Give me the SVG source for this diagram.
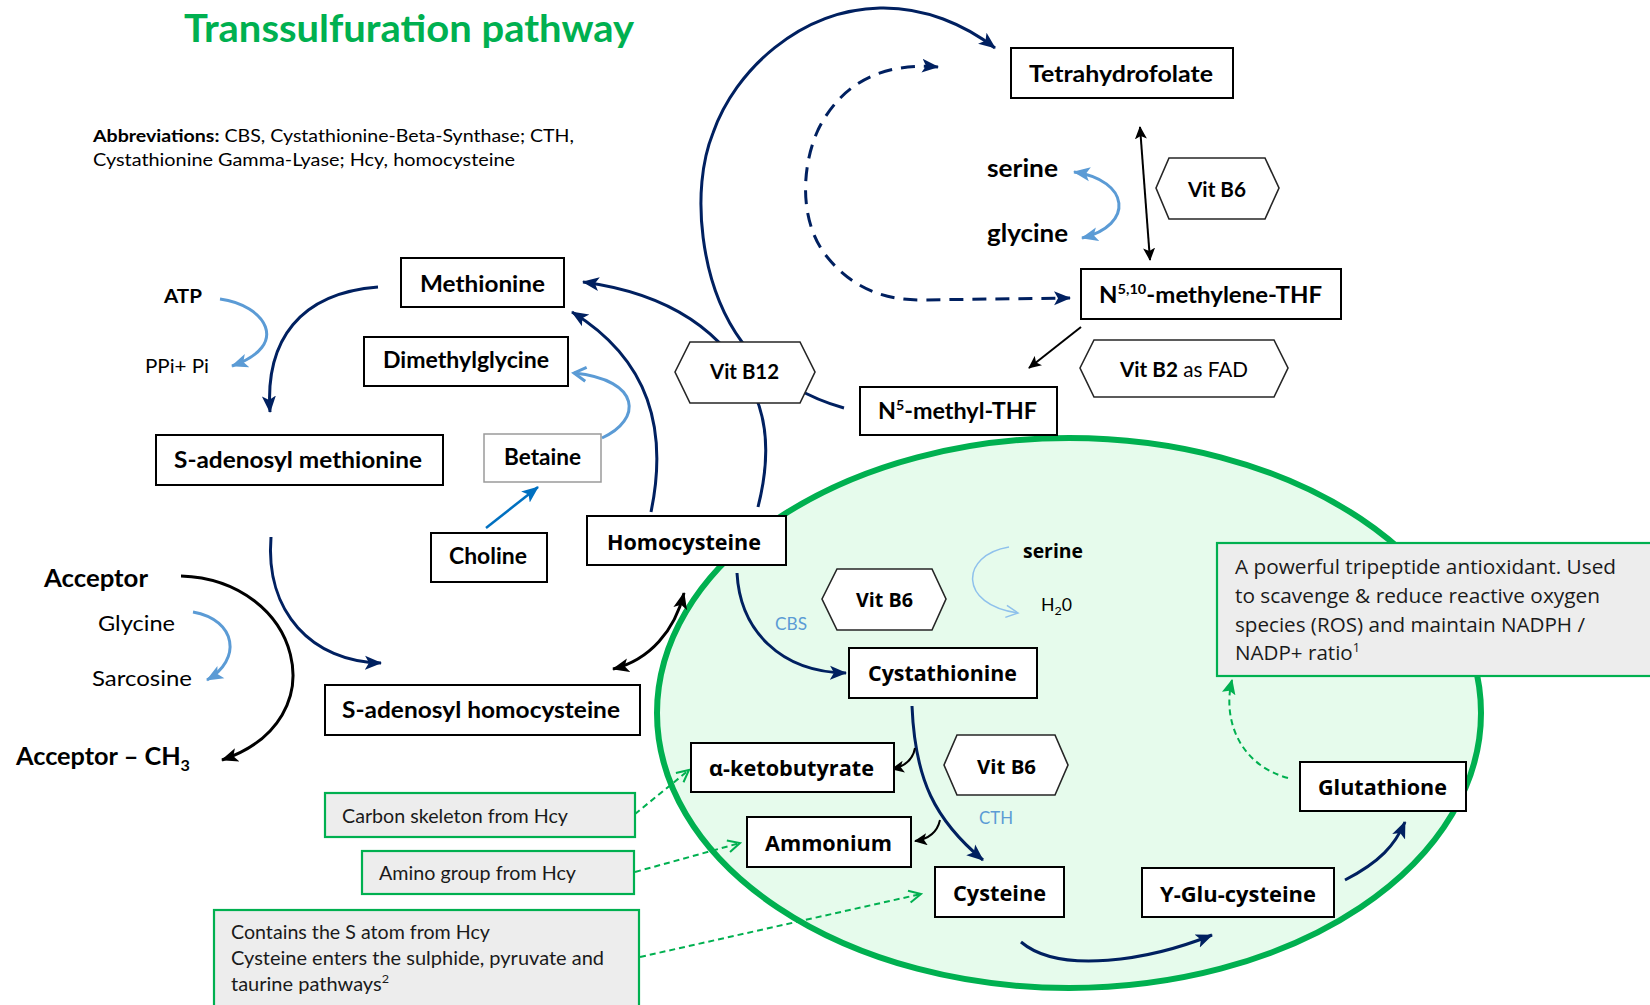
<svg xmlns="http://www.w3.org/2000/svg" width="1650" height="1005" viewBox="0 0 1650 1005">
<style>
.box{fill:#fff;stroke:#000;stroke-width:2}
.gbox{fill:#fff;stroke:#9a9a9a;stroke-width:1.5}
.hex{fill:#fff;stroke:#262626;stroke-width:1.6}
.note{fill:#ededed;stroke:#00b050;stroke-width:2.2}
.lb{font-family:Lato,'Liberation Sans',sans-serif;font-weight:700;fill:#000}
.lr{font-family:Lato,'Liberation Sans',sans-serif;font-weight:400;fill:#000}
.ob{font-family:'Open Sans','Noto Sans',sans-serif;font-weight:700;fill:#000}
.or{font-family:'Open Sans','Noto Sans',sans-serif;font-weight:400;fill:#1a1a1a}
.navy{fill:none;stroke:#002060;stroke-width:3}
.blk{fill:none;stroke:#000;stroke-width:3}
.blk2{fill:none;stroke:#000;stroke-width:2}
.lbl{fill:none;stroke:#5b9bd5;stroke-width:3}
.gd{fill:none;stroke:#00b050;stroke-width:2;stroke-dasharray:6 4}
</style>
<defs>
<marker id="aNavy" markerUnits="userSpaceOnUse" markerWidth="18" markerHeight="16" refX="16" refY="8" orient="auto-start-reverse"><path d="M0,1 L17,8 L0,15 L4,8 z" fill="#002060"/></marker>
<marker id="aBlk" markerUnits="userSpaceOnUse" markerWidth="18" markerHeight="16" refX="16" refY="8" orient="auto-start-reverse"><path d="M0,1 L17,8 L0,15 L4,8 z" fill="#000"/></marker>
<marker id="aBlkS" markerUnits="userSpaceOnUse" markerWidth="14" markerHeight="12" refX="12" refY="6" orient="auto-start-reverse"><path d="M0,0 L13,6 L0,12 L3,6 z" fill="#000"/></marker>
<marker id="aLb" markerUnits="userSpaceOnUse" markerWidth="18" markerHeight="16" refX="16" refY="8" orient="auto-start-reverse"><path d="M0,1 L17,8 L0,15 L4,8 z" fill="#5b9bd5"/></marker>
<marker id="aLbOpen" markerUnits="userSpaceOnUse" markerWidth="18" markerHeight="18" refX="15" refY="9" orient="auto"><path d="M3,2 L15,9 L3,16" fill="none" stroke="#5b9bd5" stroke-width="3"/></marker>
<marker id="aLbThin" markerUnits="userSpaceOnUse" markerWidth="16" markerHeight="16" refX="14" refY="8" orient="auto"><path d="M2,2 L14,8 L2,14" fill="none" stroke="#8fc1ec" stroke-width="1.5"/></marker>
<marker id="aBlue" markerUnits="userSpaceOnUse" markerWidth="18" markerHeight="16" refX="16" refY="8" orient="auto"><path d="M0,1 L17,8 L0,15 L4,8 z" fill="#0070c0"/></marker>
<marker id="aGreen" markerUnits="userSpaceOnUse" markerWidth="16" markerHeight="14" refX="14" refY="7" orient="auto"><path d="M0,0 L15,7 L0,14 L3,7 z" fill="#00b050"/></marker>
<marker id="aGreenOpen" markerUnits="userSpaceOnUse" markerWidth="16" markerHeight="16" refX="14" refY="8" orient="auto"><path d="M2,2 L14,8 L2,14" fill="none" stroke="#00b050" stroke-width="2"/></marker>
</defs>
<rect width="1650" height="1005" fill="#fff"/>

<g id="cell-region">
<ellipse cx="1069" cy="713" rx="412" ry="275" fill="#e6fbec" stroke="#00b050" stroke-width="6"/>
</g>

<g id="title">
<text class="lb" x="184" y="42" font-size="38" textLength="450" lengthAdjust="spacingAndGlyphs" style="fill:#00b050">Transsulfuration pathway</text>
<text class="lr" x="93" y="142" font-size="17" textLength="481" lengthAdjust="spacingAndGlyphs"><tspan font-weight="700">Abbreviations:</tspan> CBS, Cystathionine-Beta-Synthase; CTH,</text>
<text class="lr" x="93" y="166" font-size="17" textLength="422" lengthAdjust="spacingAndGlyphs">Cystathionine Gamma-Lyase; Hcy, homocysteine</text>
</g>

<g id="connectors">
<path class="navy" d="M378,287 C300,293 265,340 270,412" marker-end="url(#aNavy)"/>
<path class="lbl" d="M220,299 C265,305 292,345 232,366" marker-end="url(#aLb)"/>
<path class="navy" d="M271,537 C265,612 312,662 381,663" marker-end="url(#aNavy)"/>
<path class="blk" d="M181,576 C300,580 340,720 222,760" marker-end="url(#aBlk)"/>
<path class="lbl" d="M193,612 C237,620 242,660 207,680" marker-end="url(#aLb)"/>
<path class="blk" d="M613,669 C650,660 675,630 684,593" marker-start="url(#aBlk)" marker-end="url(#aBlk)"/>
<path class="navy" d="M651,512 C668,430 650,360 572,312" marker-end="url(#aNavy)"/>
<path class="navy" d="M758,507 C770,460 768,425 755,395 C730,340 680,295 583,282" marker-end="url(#aNavy)"/>
<path class="navy" d="M844,408 C815,400 770,380 742,342 C700,285 690,190 713,133 C735,70 800,10 880,8 C925,7 965,25 995,48" marker-end="url(#aNavy)"/>
<path class="navy" d="M938,67 C880,62 840,85 818,130 C800,170 800,225 828,258 C850,285 880,300 920,300 L1070,298" stroke-width="3.5" stroke-dasharray="14 9" marker-start="url(#aNavy)" marker-end="url(#aNavy)"/>
<path class="lbl" d="M1074,172 C1130,180 1135,225 1082,238" marker-start="url(#aLb)" marker-end="url(#aLb)"/>
<path class="blk2" d="M1140,127 L1150,260" marker-start="url(#aBlkS)" marker-end="url(#aBlkS)"/>
<path class="blk2" d="M1081,327 L1029,368" marker-end="url(#aBlkS)"/>
<path fill="none" stroke="#0070c0" stroke-width="2.5" d="M486,528 L538,487" marker-end="url(#aBlue)"/>
<path class="lbl" d="M602,438 C642,420 642,380 574,373" marker-end="url(#aLbOpen)"/>
<path class="navy" d="M737,573 C740,630 780,672 846,673" marker-end="url(#aNavy)"/>
<path class="navy" d="M912,706 C915,780 935,820 983,860" marker-end="url(#aNavy)"/>
<path class="blk2" d="M915,748 Q912,765 892,769" marker-end="url(#aBlkS)"/>
<path class="blk2" d="M940,820 Q936,838 915,841" marker-end="url(#aBlkS)"/>
<path fill="none" stroke="#8fc1ec" stroke-width="1.5" d="M1009,547 C960,555 958,605 1018,613" marker-end="url(#aLbThin)"/>
<path class="navy" d="M1021,942 C1060,975 1150,960 1212,935" marker-end="url(#aNavy)"/>
<path class="navy" d="M1345,880 C1380,862 1395,845 1405,822" marker-end="url(#aNavy)"/>
<path class="gd" d="M1288,778 C1240,765 1222,720 1232,680" marker-end="url(#aGreen)"/>
<path class="gd" d="M635,814 L689,770" marker-end="url(#aGreenOpen)"/>
<path class="gd" d="M635,872 L740,843" marker-end="url(#aGreenOpen)"/>
<path class="gd" d="M640,957 L921,894" marker-end="url(#aGreenOpen)"/>
</g>

<g id="tetrahydrofolate"><rect class="box" x="1011" y="48" width="222" height="50"/><text class="lb" x="1029" y="82" font-size="23" textLength="184" lengthAdjust="spacingAndGlyphs">Tetrahydrofolate</text></g>
<g id="serine-top"><text class="lb" x="987" y="177" font-size="24" textLength="71" lengthAdjust="spacingAndGlyphs">serine</text></g>
<g id="glycine-top"><text class="lb" x="987" y="242" font-size="24" textLength="81" lengthAdjust="spacingAndGlyphs">glycine</text></g>
<g id="vitb6-top"><polygon class="hex" points="1156,188 1169,158 1265,158 1279,188 1265,219 1169,219"/><text class="lb" x="1188" y="197" font-size="20" textLength="58" lengthAdjust="spacingAndGlyphs">Vit B6</text></g>
<g id="methylene-thf"><rect class="box" x="1081" y="269" width="260" height="50"/><text class="lb" x="1099" y="303" font-size="23" textLength="223" lengthAdjust="spacingAndGlyphs">N<tspan font-size="14" dy="-9">5,10</tspan><tspan dy="9">-methylene-THF</tspan></text></g>
<g id="vitb2"><polygon class="hex" points="1080,368 1094,340 1274,340 1288,368 1274,397 1094,397"/><text class="lb" x="1120" y="377" font-size="21" textLength="128" lengthAdjust="spacingAndGlyphs">Vit B2<tspan font-weight="400"> as FAD</tspan></text></g>
<g id="methyl-thf"><rect class="box" x="860" y="387" width="197" height="48"/><text class="lb" x="878" y="419" font-size="23" textLength="159" lengthAdjust="spacingAndGlyphs">N<tspan font-size="14" dy="-9">5</tspan><tspan dy="9">-methyl-THF</tspan></text></g>
<g id="vitb12"><polygon class="hex" points="675,372 690,342 800,342 815,372 800,403 690,403"/><text class="lb" x="710" y="379" font-size="21" textLength="69" lengthAdjust="spacingAndGlyphs">Vit B12</text></g>
<g id="methionine"><rect class="box" x="401" y="258" width="163" height="49"/><text class="lb" x="420" y="292" font-size="23" textLength="125" lengthAdjust="spacingAndGlyphs">Methionine</text></g>
<g id="dimethylglycine"><rect class="box" x="364" y="337" width="204" height="49"/><text class="lb" x="383" y="368" font-size="23" textLength="166" lengthAdjust="spacingAndGlyphs">Dimethylglycine</text></g>
<g id="sam"><rect class="box" x="156" y="435" width="287" height="50"/><text class="lb" x="174" y="468" font-size="23" textLength="248" lengthAdjust="spacingAndGlyphs">S-adenosyl methionine</text></g>
<g id="betaine"><rect class="gbox" x="484" y="434" width="117" height="48"/><text class="lb" x="504" y="465" font-size="23" textLength="77" lengthAdjust="spacingAndGlyphs">Betaine</text></g>
<g id="choline"><rect class="box" x="431" y="533" width="116" height="49"/><text class="lb" x="449" y="564" font-size="23" textLength="78" lengthAdjust="spacingAndGlyphs">Choline</text></g>
<g id="atp"><text class="lb" x="164" y="303" font-size="19" textLength="38" lengthAdjust="spacingAndGlyphs">ATP</text></g>
<g id="ppi"><text class="lr" x="145" y="373" font-size="19" textLength="64" lengthAdjust="spacingAndGlyphs">PPi+ Pi</text></g>
<g id="acceptor"><text class="lb" x="44" y="587" font-size="25" textLength="104" lengthAdjust="spacingAndGlyphs">Acceptor</text></g>
<g id="glycine-left"><text class="lr" x="98" y="631" font-size="22" textLength="77" lengthAdjust="spacingAndGlyphs">Glycine</text></g>
<g id="sarcosine"><text class="lr" x="92" y="686" font-size="22" textLength="100" lengthAdjust="spacingAndGlyphs">Sarcosine</text></g>
<g id="acceptor-ch3"><text class="lb" x="16" y="765" font-size="25" textLength="174" lengthAdjust="spacingAndGlyphs">Acceptor – CH<tspan font-size="16" dy="6">3</tspan></text></g>
<g id="sah"><rect class="box" x="325" y="685" width="315" height="50"/><text class="lb" x="342" y="718" font-size="23" textLength="278" lengthAdjust="spacingAndGlyphs">S-adenosyl homocysteine</text></g>
<g id="note-carbon"><rect class="note" x="325" y="793" width="310" height="44"/><text class="lr" x="342" y="823" font-size="19" textLength="226" lengthAdjust="spacingAndGlyphs" style="fill:#1a1a1a">Carbon skeleton from Hcy</text></g>
<g id="note-amino"><rect class="note" x="362" y="851" width="272" height="43"/><text class="lr" x="379" y="880" font-size="19" textLength="197" lengthAdjust="spacingAndGlyphs" style="fill:#1a1a1a">Amino group from Hcy</text></g>
<g id="note-sulfur"><rect class="note" x="214" y="910" width="425" height="100"/>
<text class="lr" x="231" y="939" font-size="19" textLength="259" lengthAdjust="spacingAndGlyphs" style="fill:#1a1a1a">Contains the S atom from Hcy</text>
<text class="lr" x="231" y="965" font-size="19" textLength="373" lengthAdjust="spacingAndGlyphs" style="fill:#1a1a1a">Cysteine enters the sulphide, pyruvate and</text>
<text class="lr" x="231" y="991" font-size="19" textLength="158" lengthAdjust="spacingAndGlyphs" style="fill:#1a1a1a">taurine pathways<tspan font-size="12" dy="-8">2</tspan></text></g>
<g id="homocysteine"><rect class="box" x="587" y="516" width="199" height="49"/><text class="ob" x="607" y="550" font-size="22" textLength="154" lengthAdjust="spacingAndGlyphs">Homocysteine</text></g>
<g id="vitb6-mid"><polygon class="hex" points="822,599 837,569 932,569 946,599 932,630 837,630"/><text class="ob" x="856" y="607" font-size="20" textLength="57" lengthAdjust="spacingAndGlyphs">Vit B6</text></g>
<g id="cbs"><text class="lr" x="775" y="630" font-size="17" textLength="32" lengthAdjust="spacingAndGlyphs" style="fill:#5b9bd5">CBS</text></g>
<g id="serine-low"><text class="ob" x="1023" y="558" font-size="19" textLength="60" lengthAdjust="spacingAndGlyphs">serine</text></g>
<g id="h2o"><text class="lr" x="1041" y="611" font-size="17" textLength="31" lengthAdjust="spacingAndGlyphs">H<tspan font-size="12" dy="4">2</tspan><tspan dy="-4">0</tspan></text></g>
<g id="cystathionine"><rect class="box" x="849" y="648" width="188" height="50"/><text class="ob" x="868" y="681" font-size="22" textLength="149" lengthAdjust="spacingAndGlyphs">Cystathionine</text></g>
<g id="ketobutyrate"><rect class="box" x="691" y="743" width="203" height="49"/><text class="ob" x="709" y="776" font-size="22" textLength="165" lengthAdjust="spacingAndGlyphs">α-ketobutyrate</text></g>
<g id="vitb6-low"><polygon class="hex" points="944,765 957,735 1055,735 1068,765 1055,795 957,795"/><text class="ob" x="977" y="774" font-size="20" textLength="59" lengthAdjust="spacingAndGlyphs">Vit B6</text></g>
<g id="cth"><text class="lr" x="979" y="824" font-size="17" textLength="34" lengthAdjust="spacingAndGlyphs" style="fill:#5b9bd5">CTH</text></g>
<g id="ammonium"><rect class="box" x="747" y="817" width="164" height="50"/><text class="ob" x="765" y="851" font-size="22" textLength="127" lengthAdjust="spacingAndGlyphs">Ammonium</text></g>
<g id="cysteine"><rect class="box" x="935" y="867" width="129" height="50"/><text class="ob" x="953" y="901" font-size="22" textLength="93" lengthAdjust="spacingAndGlyphs">Cysteine</text></g>
<g id="yglu"><rect class="box" x="1142" y="868" width="192" height="49"/><text class="ob" x="1160" y="902" font-size="22" textLength="156" lengthAdjust="spacingAndGlyphs">Y-Glu-cysteine</text></g>
<g id="glutathione"><rect class="box" x="1300" y="762" width="166" height="49"/><text class="ob" x="1318" y="795" font-size="22" textLength="129" lengthAdjust="spacingAndGlyphs">Glutathione</text></g>
<g id="note-glutathione"><rect class="note" x="1217" y="543" width="440" height="133"/>
<text class="or" x="1235" y="574" font-size="19.5" textLength="381" lengthAdjust="spacingAndGlyphs">A powerful tripeptide antioxidant. Used</text>
<text class="or" x="1235" y="603" font-size="19.5" textLength="365" lengthAdjust="spacingAndGlyphs">to scavenge &amp; reduce reactive oxygen</text>
<text class="or" x="1235" y="632" font-size="19.5" textLength="350" lengthAdjust="spacingAndGlyphs">species (ROS) and maintain NADPH /</text>
<text class="or" x="1235" y="660" font-size="19.5" textLength="125" lengthAdjust="spacingAndGlyphs">NADP+ ratio<tspan font-size="12" dy="-8">1</tspan></text></g>
</svg>
